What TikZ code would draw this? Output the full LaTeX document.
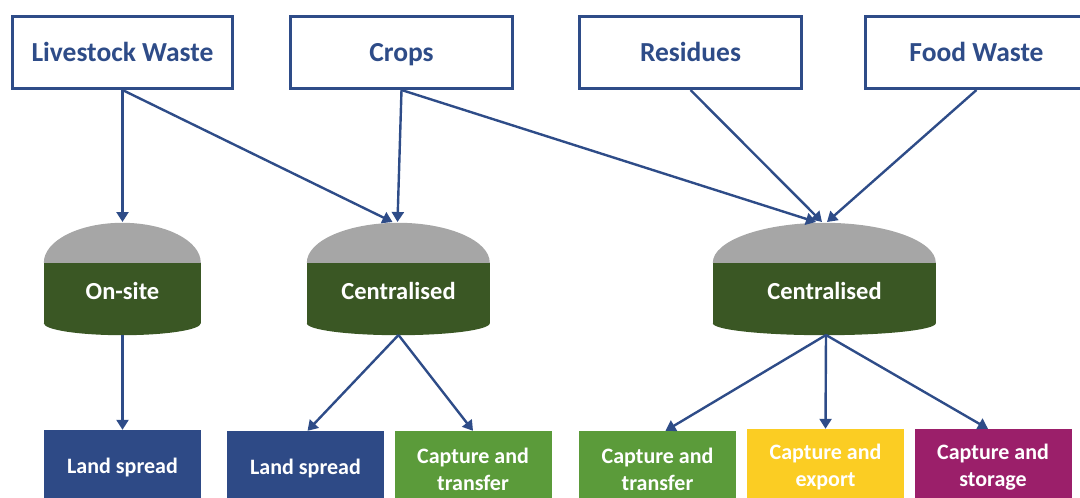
\documentclass[tikz,border=0pt]{standalone}
\usepackage{fontspec}
\setmainfont{Carlito}
\usetikzlibrary{arrows.meta,calc}
\definecolor{navy}{HTML}{2E4C88}
\definecolor{landblue}{HTML}{2E4A86}
\definecolor{capgreen}{HTML}{5B9B3A}
\definecolor{capyellow}{HTML}{FBCD23}
\definecolor{cappurple}{HTML}{9B1F6A}
\definecolor{diggreen}{HTML}{3A5724}
\definecolor{diggray}{HTML}{A6A6A6}
\tikzset{
  srcbox/.style={draw=navy, line width=3pt, fill=white, minimum width=220pt, minimum height=72pt, inner sep=0pt,
    text=navy, font=\fontsize{27.5}{33}\selectfont\bfseries, text height=22pt, text depth=4pt},
  digbody/.style={fill=diggreen, minimum height=60pt, inner sep=0pt, text=white,
    font=\fontsize{24.5}{29}\selectfont\bfseries, text height=16pt, text depth=4pt},
  outbox/.style={minimum width=157pt, minimum height=76pt, inner sep=0pt, text=white, align=center,
    font=\fontsize{22}{27}\selectfont\bfseries},
  flow/.style={draw=navy, line width=2.4pt, -{Triangle[width=12pt,length=10pt]}},
}
\begin{document}
\begin{tikzpicture}[x=1pt,y=-1pt]
\useasboundingbox (0,0) rectangle (1080,498);
\clip (0,0) rectangle (1080,498);
% sources
\node[srcbox, minimum width=220pt] (lw) at (122.5,52.5) {Livestock Waste};
\node[srcbox, minimum width=222pt] (crops) at (401.5,52.5) {Crops};
\node[srcbox, minimum width=222pt] (res) at (690.5,52.5) {Residues};
\node[srcbox, minimum width=222pt] (food) at (976.5,52.5) {Food Waste};
% digesters
\node[digbody, minimum width=157pt] (d1) at (122.5,293) {On-site};
\node[digbody, minimum width=183pt] (d2) at (398.5,293) {Centralised};
\node[digbody, minimum width=223pt] (d3) at (824.5,293) {Centralised};
\fill[diggray] (d1.north west) arc[start angle=180, end angle=0, x radius=78.5pt, y radius=40pt] -- cycle;
\fill[diggray] (d2.north west) arc[start angle=180, end angle=0, x radius=91.5pt, y radius=40pt] -- cycle;
\fill[diggray] (d3.north west) arc[start angle=180, end angle=0, x radius=111.5pt, y radius=40pt] -- cycle;
\fill[diggreen] (d1.south west) arc[start angle=180, end angle=360, x radius=78.5pt, y radius=12pt] -- cycle;
\fill[diggreen] (d2.south west) arc[start angle=180, end angle=360, x radius=91.5pt, y radius=12pt] -- cycle;
\fill[diggreen] (d3.south west) arc[start angle=180, end angle=360, x radius=111.5pt, y radius=12pt] -- cycle;
\coordinate (d1t) at (122.5,222);
\coordinate (d2t) at (395.5,222);
\coordinate (d3t) at (823,222);
\coordinate (d1b) at (122.5,335);
\coordinate (d2b) at (398.5,335);
\coordinate (d3b) at (826,335);
% outputs
\node[outbox, fill=landblue] (ls1) at (122.5,468) {Land spread};
\node[outbox, fill=landblue] (ls2) at (305.5,469) {Land spread};
\node[outbox, fill=capgreen] (ct1) at (473,469) {Capture and\\transfer};
\node[outbox, fill=capgreen] (ct2) at (657.5,469) {Capture and\\transfer};
\node[outbox, fill=capyellow] (exp) at (825.5,467) {Capture and\\export};
\node[outbox, fill=cappurple] (sto) at (993,467) {Capture and\\storage};
% flows in
\draw[flow] (lw.south) -- (d1t);
\draw[flow] (lw.south) -- ($(d2t)+(-3,0)$);
\draw[flow] (crops.south) -- ($(d2t)+(2,0)$);
\draw[flow] (crops.south) -- ($(d3t)+(-7,0)$);
\draw[flow] (res.south) -- ($(d3t)+(-1,0)$);
\draw[flow] (food.south) -- ($(d3t)+(4,0)$);
% flows out
\draw[flow] (d1b) -- (ls1.north);
\draw[flow] (d2b) -- ($(ls2.north)+(2,0)$);
\draw[flow] (d2b) -- (ct1.north);
\draw[flow] (d3b) -- ($(ct2.north)+(8,0)$);
\draw[flow] (d3b) -- (exp.north);
\draw[flow] (d3b) -- ($(sto.north)+(-5,0)$);
\end{tikzpicture}
\end{document}
